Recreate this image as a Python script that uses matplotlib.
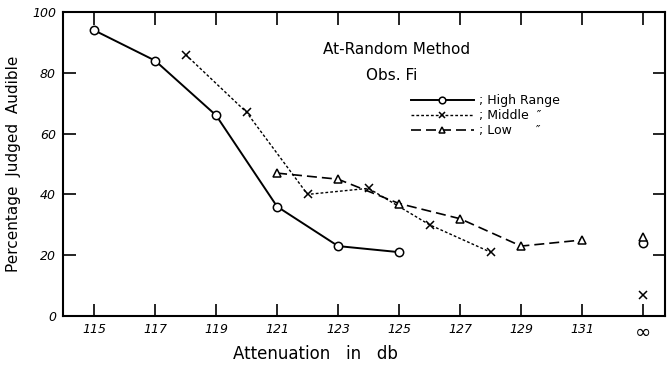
import matplotlib.pyplot as plt
import numpy as np

# posição do "infinito" no eixo x
INF = 133

# Dados
alta_x = [115, 117, 119, 121, 123, 125]
alta_y = [94, 84, 66, 36, 23, 21]
media_x = [118, 120, 122, 124, 126, 128]
media_y = [86, 67, 40, 42, 30, 21]
baixa_x = [121, 123, 125, 127, 129, 131]
baixa_y = [47, 45, 37, 32, 23, 25]
inf_alta = 24
inf_media = 7
inf_baixa = 26

xticks = [115, 117, 119, 121, 123, 125, 127, 129, 131, INF]
xlabels = ['115', '117', '119', '121', '123', '125', '127', '129', '131', '∞']
yticks = [0, 20, 40, 60, 80, 100]

fig = plt.figure(figsize=(6.67, 3.70), dpi=100)
ax = fig.add_axes([63 / 667, 54 / 370, 602 / 667, 304 / 370])

ax.plot(alta_x, alta_y, '-', color='black', lw=1.4, marker='o', ms=6,
        mfc='white', mec='black', mew=1.1, label='; High Range')
ax.plot(media_x, media_y, color='black', lw=1.0, ls=(0, (2, 1.5)),
        marker='x', ms=6, mew=1.1, label='; Middle  ″')
ax.plot(baixa_x, baixa_y, color='black', lw=1.2, ls=(0, (6, 3)),
        marker='^', ms=6, mfc='white', mec='black', mew=1.1,
        label='; Low      ″')

# pontos no infinito (sem linha)
ax.plot([INF], [inf_alta], 'o', ms=6, mfc='white', mec='black', mew=1.1)
ax.plot([INF], [inf_baixa], '^', ms=6, mfc='white', mec='black', mew=1.1)
ax.plot([INF], [inf_media], 'x', ms=6, color='black', mew=1.1)

ax.set_xlim(113.98, 133.72)
ax.set_ylim(0, 100)
ax.set_xticks(xticks)
ax.set_xticklabels(xlabels, fontsize=9, fontstyle='italic')
ax.get_xticklabels()[-1].set_fontsize(14)
ax.get_xticklabels()[-1].set_fontstyle('normal')
ax.set_yticks(yticks)
ax.set_yticklabels([str(v) for v in yticks], fontsize=9, fontstyle='italic')
ax.tick_params(direction='in', length=9, width=1.2, top=True, right=True,
               pad=5)
for s in ax.spines.values():
    s.set_linewidth(1.5)

ax.set_xlabel('Attenuation   in   db', fontsize=12)
ax.xaxis.set_label_coords(0.42, -0.095)
ax.set_ylabel('Percentage  Judged  Audible', fontsize=11, labelpad=8)

fig.text(397 / 667, 1 - 50 / 370, 'At-Random Method', fontsize=11,
         ha='center', va='center')
fig.text(392 / 667, 1 - 76 / 370, 'Obs. Fi', fontsize=11, ha='center',
         va='center')

ax.legend(loc='upper left', bbox_to_anchor=((405 - 63) / 602, (316 - 88) / 304),
          frameon=False, fontsize=9, handlelength=5, labelspacing=0.15,
          borderpad=0, handletextpad=0.4, markerscale=0.8)

fig.savefig('out.png', dpi=100)
